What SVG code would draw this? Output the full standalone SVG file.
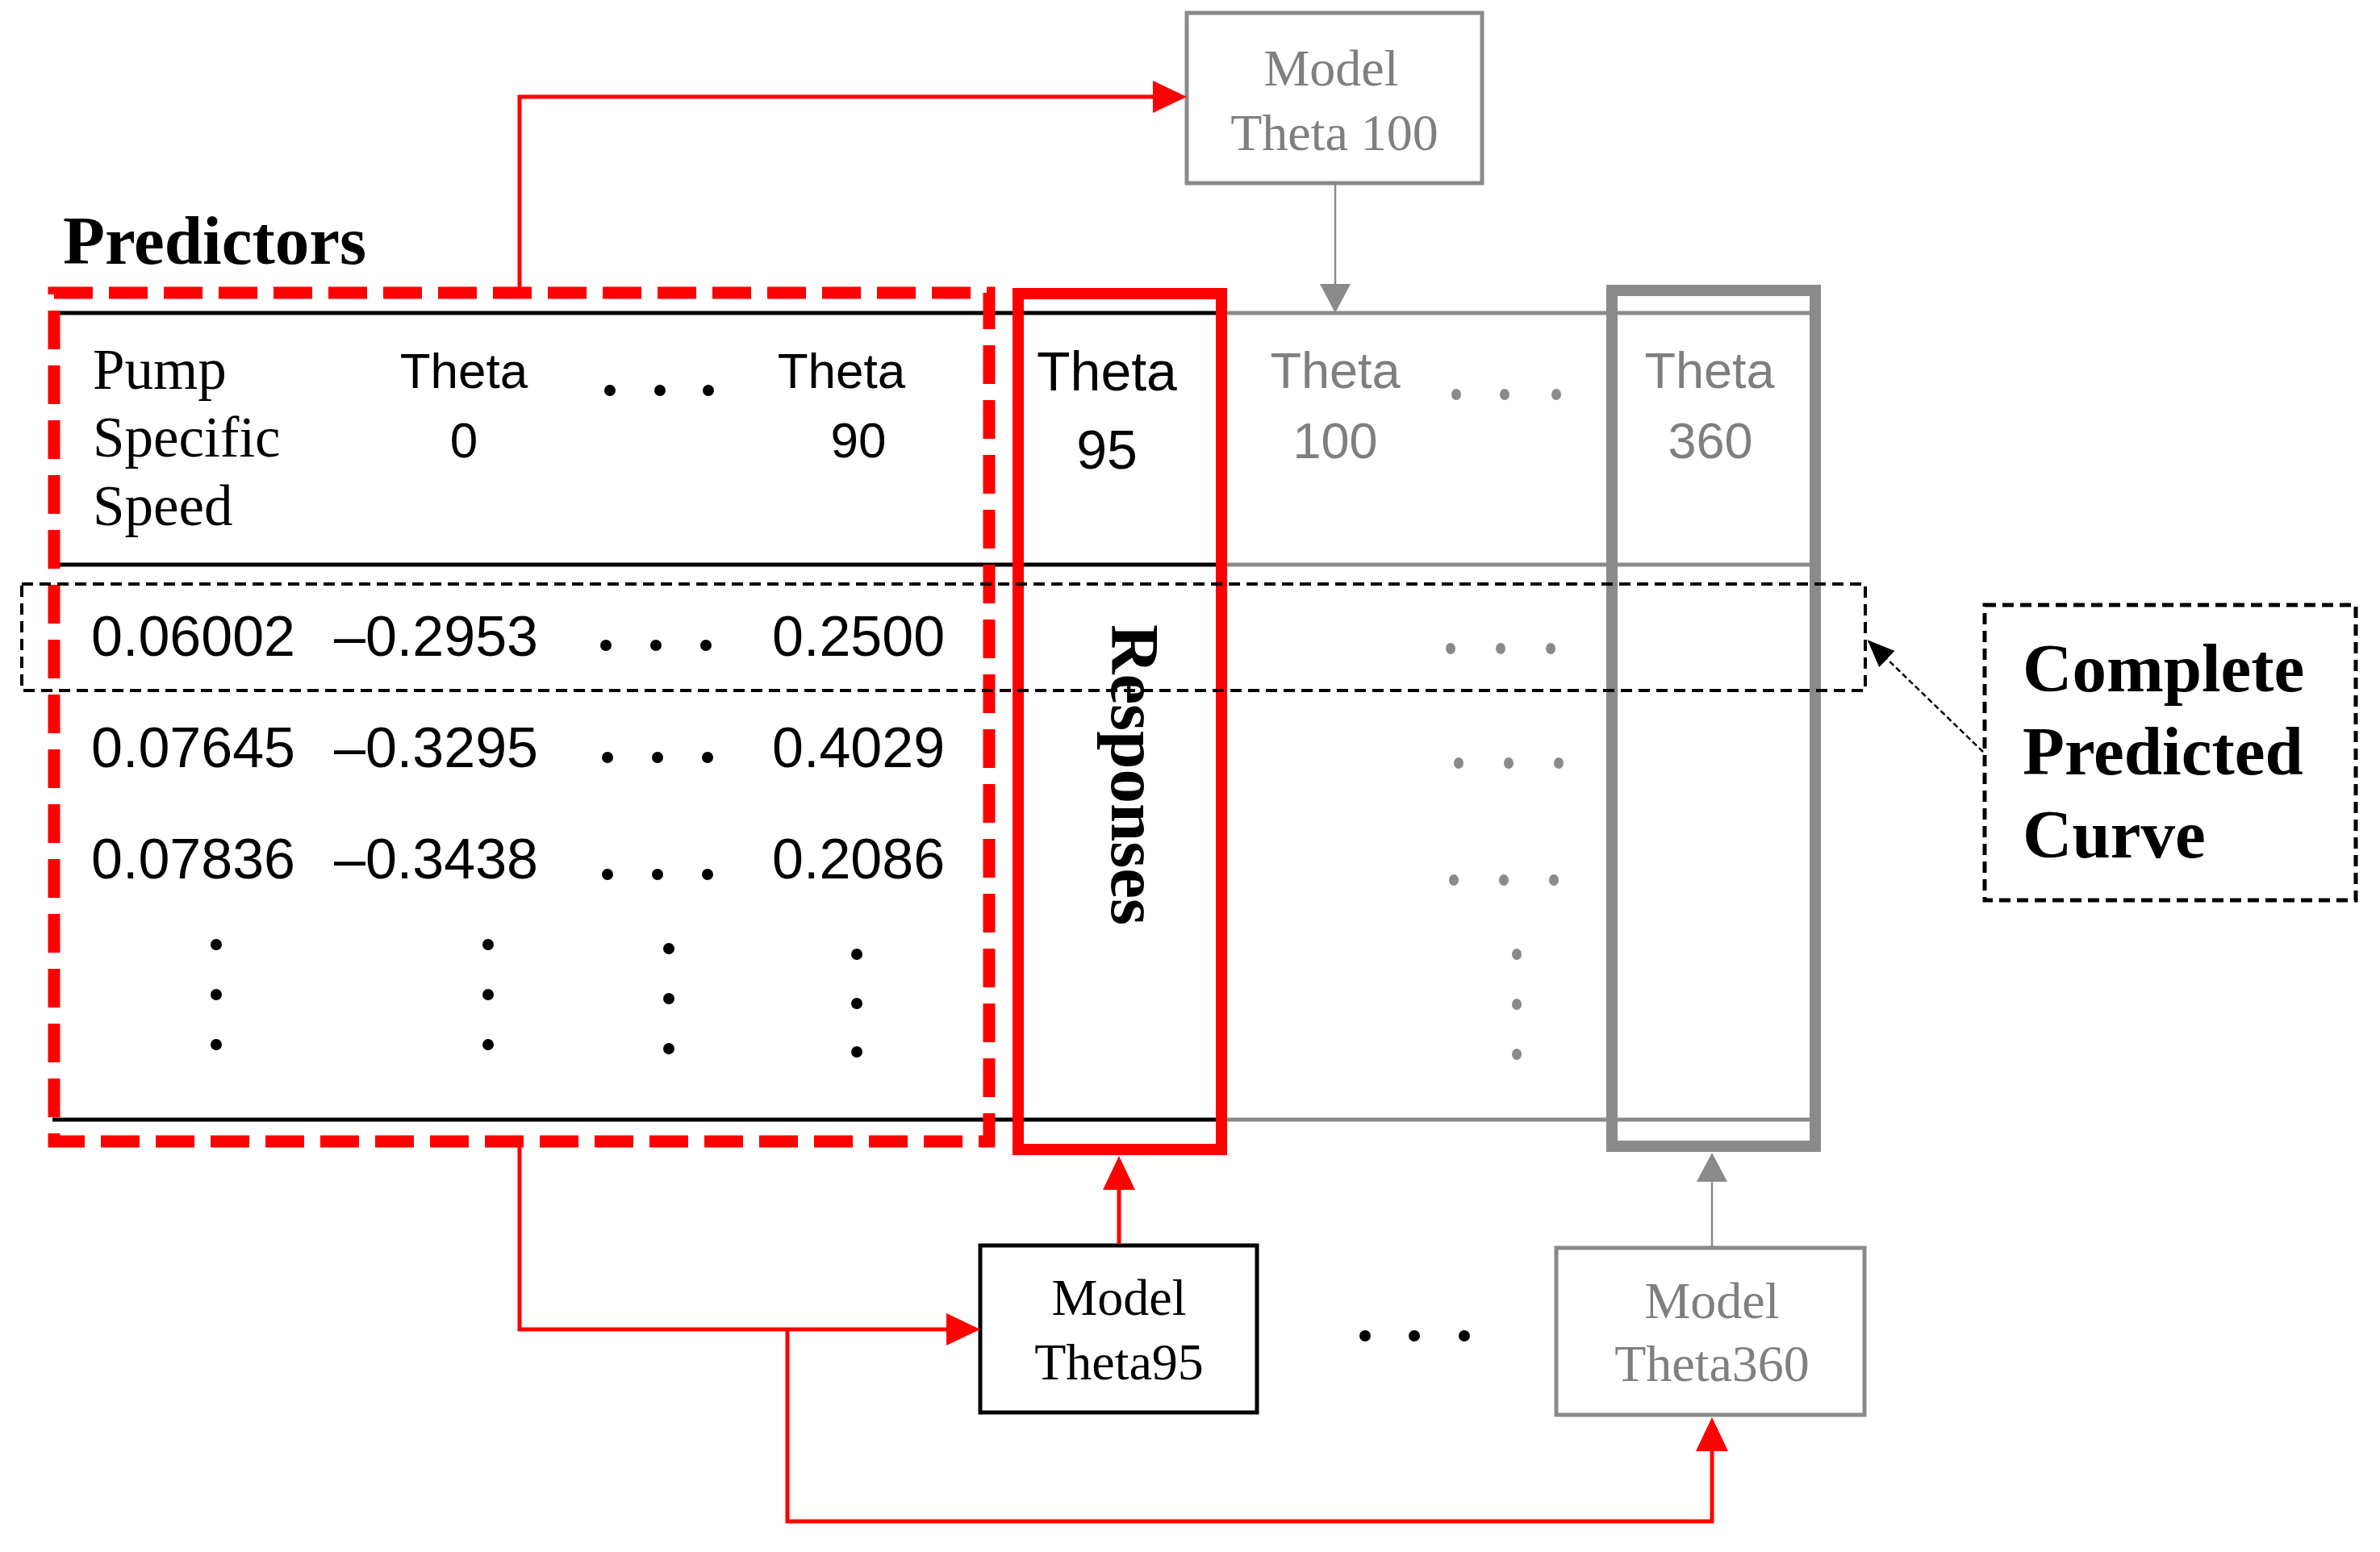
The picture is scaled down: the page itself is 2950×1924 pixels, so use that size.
<svg xmlns="http://www.w3.org/2000/svg" width="2950" height="1924" viewBox="0 0 2950 1924">
<style>
.serif{font-family:"Liberation Serif","Times New Roman",serif;}
.sans{font-family:"Liberation Sans",Arial,sans-serif;}
.bold{font-weight:bold;}
.blk{fill:#000;}
.gry{fill:#7f7f7f;}
.mid{text-anchor:middle;}
.tl{stroke:#000;stroke-width:5;fill:none;}
.tg{stroke:#8a8a8a;stroke-width:5;fill:none;}
.red{stroke:#ff0000;stroke-width:5;fill:none;}
.gline{stroke:#8a8a8a;stroke-width:2.5;fill:none;}
.dot{fill:#000;}
.gdot{fill:#8a8a8a;}
</style>
<defs>
<marker id="ahRed" markerUnits="userSpaceOnUse" viewBox="0 0 44 44" markerWidth="44" markerHeight="44" refX="0" refY="22" orient="auto"><path d="M0,2 L42,22 L0,42 z" fill="#ff0000"/></marker>
<marker id="ahGray" markerUnits="userSpaceOnUse" viewBox="0 0 40 40" markerWidth="40" markerHeight="40" refX="0" refY="20" orient="auto"><path d="M0,1 L36,20 L0,39 z" fill="#8a8a8a"/></marker>
<marker id="ahBlack" markerUnits="userSpaceOnUse" viewBox="0 0 36 32" markerWidth="36" markerHeight="32" refX="0" refY="16" orient="auto"><path d="M0,2 L34,16 L0,30 z" fill="#000"/></marker>
</defs>
<rect width="2950" height="1924" fill="#fff"/>

<g id="table">
<path class="tl" d="M65,388 H1514 M65,700 H1514 M65,1388 H1514"/>
<path class="tg" d="M1514,388 H2250 M1514,700 H2250 M1514,1388 H2250"/>
<text class="serif blk" font-size="71" x="115" y="482">Pump</text>
<text class="serif blk" font-size="71" x="115" y="566">Specific</text>
<text class="serif blk" font-size="71" x="115" y="651">Speed</text>
<text class="sans blk mid" font-size="62" x="575" y="481">Theta</text>
<text class="sans blk mid" font-size="62" x="575" y="567">0</text>
<circle class="dot" cx="756" cy="484" r="7"/><circle class="dot" cx="818" cy="484" r="7"/><circle class="dot" cx="878" cy="484" r="7"/>
<text class="sans blk mid" font-size="62" x="1043" y="481">Theta</text>
<text class="sans blk mid" font-size="62" x="1064" y="567">90</text>
<text class="sans blk mid" font-size="68" x="1372" y="484">Theta</text>
<text class="sans blk mid" font-size="68" x="1372" y="581">95</text>
<text class="sans gry mid" font-size="63" x="1655" y="481">Theta</text>
<text class="sans gry mid" font-size="63" x="1655" y="568">100</text>
<ellipse class="gdot" cx="1805" cy="489" rx="6" ry="7"/><ellipse class="gdot" cx="1865" cy="489" rx="6" ry="7"/><ellipse class="gdot" cx="1929" cy="489" rx="6" ry="7"/>
<text class="sans gry mid" font-size="63" x="2119" y="481">Theta</text>
<text class="sans gry mid" font-size="63" x="2120" y="568">360</text>

<text class="sans blk" font-size="70" x="113" y="813">0.06002</text>
<text class="sans blk" font-size="70" x="414" y="813">–0.2953</text>
<circle class="dot" cx="751" cy="800" r="7"/><circle class="dot" cx="813" cy="800" r="7"/><circle class="dot" cx="875" cy="800" r="7"/>
<text class="sans blk" font-size="70" x="957" y="813">0.2500</text>

<text class="sans blk" font-size="70" x="113" y="951">0.07645</text>
<text class="sans blk" font-size="70" x="414" y="951">–0.3295</text>
<circle class="dot" cx="753" cy="939" r="7"/><circle class="dot" cx="815" cy="939" r="7"/><circle class="dot" cx="877" cy="939" r="7"/>
<text class="sans blk" font-size="70" x="957" y="951">0.4029</text>

<text class="sans blk" font-size="70" x="113" y="1089">0.07836</text>
<text class="sans blk" font-size="70" x="414" y="1089">–0.3438</text>
<circle class="dot" cx="753" cy="1084" r="7"/><circle class="dot" cx="815" cy="1084" r="7"/><circle class="dot" cx="877" cy="1084" r="7"/>
<text class="sans blk" font-size="70" x="957" y="1089">0.2086</text>

<circle class="dot" cx="268" cy="1171" r="7"/><circle class="dot" cx="268" cy="1233" r="7"/><circle class="dot" cx="268" cy="1295" r="7"/>
<circle class="dot" cx="605" cy="1171" r="7"/><circle class="dot" cx="605" cy="1233" r="7"/><circle class="dot" cx="605" cy="1295" r="7"/>
<circle class="dot" cx="829" cy="1176" r="7"/><circle class="dot" cx="829" cy="1238" r="7"/><circle class="dot" cx="829" cy="1300" r="7"/>
<circle class="dot" cx="1062" cy="1183" r="7"/><circle class="dot" cx="1062" cy="1244" r="7"/><circle class="dot" cx="1062" cy="1304" r="7"/>

<ellipse class="gdot" cx="1798" cy="804" rx="6" ry="7"/><ellipse class="gdot" cx="1860" cy="804" rx="6" ry="7"/><ellipse class="gdot" cx="1922" cy="804" rx="6" ry="7"/>
<ellipse class="gdot" cx="1808" cy="946" rx="6" ry="7"/><ellipse class="gdot" cx="1870" cy="946" rx="6" ry="7"/><ellipse class="gdot" cx="1932" cy="946" rx="6" ry="7"/>
<ellipse class="gdot" cx="1802" cy="1091" rx="6" ry="7"/><ellipse class="gdot" cx="1864" cy="1091" rx="6" ry="7"/><ellipse class="gdot" cx="1926" cy="1091" rx="6" ry="7"/>
<ellipse class="gdot" cx="1880" cy="1183" rx="6" ry="7"/><ellipse class="gdot" cx="1880" cy="1245" rx="6" ry="7"/><ellipse class="gdot" cx="1880" cy="1307" rx="6" ry="7"/>
</g>

<g id="predictors">
<rect x="67" y="363" width="1159" height="1052" fill="none" stroke="#ff0000" stroke-width="15" stroke-dasharray="48 20"/>
<text class="serif bold blk" font-size="85" x="78" y="327">Predictors</text>
</g>

<g id="responses">
<rect x="1262" y="364" width="252" height="1061" fill="none" stroke="#ff0000" stroke-width="14"/>
<text class="serif bold blk" font-size="85" transform="translate(1378,774) rotate(90)">Responses</text>
</g>

<g id="theta360-column">
<rect x="1998" y="360" width="252" height="1061" fill="none" stroke="#8a8a8a" stroke-width="14"/>
</g>

<g id="row-highlight">
<rect x="27" y="724" width="2285" height="132" fill="none" stroke="#000" stroke-width="4" stroke-dasharray="14 8"/>
</g>

<g id="complete-curve">
<rect x="2460" y="750" width="460" height="366" fill="none" stroke="#000" stroke-width="5" stroke-dasharray="14 8"/>
<text class="serif bold blk" font-size="85" x="2507" y="857">Complete</text>
<text class="serif bold blk" font-size="85" x="2507" y="960">Predicted</text>
<text class="serif bold blk" font-size="85" x="2507" y="1063">Curve</text>
</g>

<g id="model-theta100">
<rect x="1471" y="16" width="366" height="211" fill="#fff" stroke="#8a8a8a" stroke-width="5"/>
<text class="serif gry mid" font-size="64" x="1650" y="106">Model</text>
<text class="serif gry mid" font-size="64" x="1654" y="186">Theta 100</text>
</g>

<g id="model-theta95">
<rect x="1215" y="1544" width="343" height="207" fill="#fff" stroke="#000" stroke-width="5"/>
<text class="serif blk mid" font-size="64" x="1387" y="1630">Model</text>
<text class="serif blk mid" font-size="64" x="1387" y="1710">Theta95</text>
</g>

<g id="model-theta360">
<rect x="1929" y="1547" width="382" height="207" fill="#fff" stroke="#8a8a8a" stroke-width="5"/>
<text class="serif gry mid" font-size="64" x="2122" y="1634">Model</text>
<text class="serif gry mid" font-size="64" x="2122" y="1712">Theta360</text>
</g>

<g id="ellipsis-models">
<circle class="dot" cx="1692" cy="1656" r="7"/><circle class="dot" cx="1753" cy="1656" r="7"/><circle class="dot" cx="1815" cy="1656" r="7"/>
</g>

<g id="connectors">
<path class="red" d="M644,356 V120 H1429" marker-end="url(#ahRed)"/>
<path class="red" d="M644,1422 V1648 H1173" marker-end="url(#ahRed)"/>
<path class="red" d="M976,1648 V1886 H2122 V1799" marker-end="url(#ahRed)"/>
<path class="red" d="M1387,1542 V1475" marker-end="url(#ahRed)"/>
<path class="gline" d="M1655,229 V352" marker-end="url(#ahGray)"/>
<path class="gline" d="M2122,1545 V1465" marker-end="url(#ahGray)"/>
<path d="M2458,932 L2339,817" fill="none" stroke="#000" stroke-width="2.5" stroke-dasharray="7 4" marker-end="url(#ahBlack)"/>
</g>
</svg>
